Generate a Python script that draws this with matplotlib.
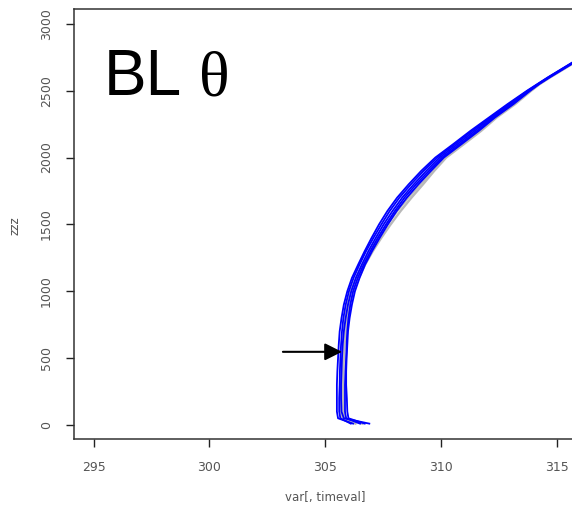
#!/usr/bin/env python3
"""
BL theta profiles: ensemble of potential temperature profiles vs height
"""
import numpy as np
import matplotlib
matplotlib.use('Agg')
import matplotlib.pyplot as plt

#--------------------------------------
# Data
#--------------------------------------
zzz = [10, 50, 100, 200, 300, 400, 500, 600, 700, 800, 900, 1000,
       1100, 1200, 1300, 1400, 1500, 1600, 1700, 1800, 1900, 2000,
       2100, 2200, 2300, 2400, 2500, 2550, 2600, 2700, 2800, 2900]

# grey members (drawn first, underneath)
theta_grey_1 = [306.3, 305.72, 305.68, 305.68, 305.70, 305.72, 305.74, 305.77, 305.80, 305.85,
                305.95, 306.10, 306.32, 306.60, 306.92, 307.28, 307.68, 308.10, 308.58, 309.10,
                309.62, 310.14, 310.90, 311.65, 312.34, 313.14, 313.86, 314.24, 314.69, 315.64,
                316.59, 317.54]
theta_grey_2 = [306.6, 305.85, 305.78, 305.76, 305.76, 305.78, 305.80, 305.83, 305.88, 305.95,
                306.05, 306.22, 306.45, 306.72, 307.05, 307.42, 307.82, 308.25, 308.72, 309.22,
                309.70, 310.22, 310.98, 311.73, 312.40, 313.20, 313.89, 314.26, 314.71, 315.66,
                316.61, 317.56]

# blue members
theta_blue_1 = [306.2, 305.55, 305.50, 305.50, 305.50, 305.52, 305.55, 305.58, 305.62, 305.70,
                305.80, 305.95, 306.15, 306.42, 306.70, 307.00, 307.32, 307.68, 308.10, 308.60,
                309.14, 309.75, 310.52, 311.27, 312.07, 312.87, 313.71, 314.16, 314.61, 315.56,
                316.50, 317.45]
theta_blue_2 = [306.9, 305.80, 305.70, 305.68, 305.68, 305.70, 305.72, 305.75, 305.80, 305.88,
                305.98, 306.12, 306.32, 306.58, 306.86, 307.18, 307.52, 307.90, 308.32, 308.82,
                309.36, 309.94, 310.70, 311.45, 312.20, 313.00, 313.78, 314.20, 314.65, 315.60,
                316.55, 317.50]
theta_blue_3 = [306.5, 305.90, 305.85, 305.85, 305.85, 305.87, 305.90, 305.92, 305.95, 306.00,
                306.08, 306.20, 306.40, 306.66, 306.95, 307.27, 307.62, 308.00, 308.42, 308.92,
                309.47, 310.04, 310.80, 311.55, 312.27, 313.07, 313.82, 314.22, 314.67, 315.62,
                316.57, 317.52]
theta_blue_4 = [306.1, 305.65, 305.60, 305.60, 305.62, 305.63, 305.65, 305.68, 305.72, 305.78,
                305.88, 306.02, 306.22, 306.48, 306.76, 307.08, 307.42, 307.78, 308.20, 308.70,
                309.24, 309.84, 310.60, 311.35, 312.13, 312.93, 313.74, 314.18, 314.63, 315.58,
                316.52, 317.47]
theta_blue_5 = [306.7, 306.00, 305.95, 305.93, 305.90, 305.90, 305.92, 305.95, 305.98, 306.05,
                306.15, 306.28, 306.48, 306.72, 307.02, 307.35, 307.70, 308.08, 308.52, 309.02,
                309.56, 310.12, 310.88, 311.63, 312.33, 313.13, 313.85, 314.24, 314.69, 315.64,
                316.59, 317.54]

x_ticks = [295, 300, 305, 310, 315]
y_ticks = [0, 500, 1000, 1500, 2000, 2500, 3000]

#--------------------------------------
# Plot
#--------------------------------------
W, H = 572, 507
fig = plt.figure(figsize=(W/100, H/100), dpi=100)
# axes box runs off the right edge of the picture, as in the reference
ax = fig.add_axes([74/W, (H-439)/H, (600-74)/W, (439-9)/H])

for th in [theta_grey_1, theta_grey_2]:
    ax.plot(th, zzz, color='#b8b8b8', lw=1.7, zorder=2)
for th in [theta_blue_1, theta_blue_2, theta_blue_3, theta_blue_4, theta_blue_5]:
    ax.plot(th, zzz, color='#0000ff', lw=1.3, zorder=3)

# arrow pointing at the near-surface profile
ax.annotate('', xy=(305.72, 547), xytext=(303.17, 547),
            arrowprops=dict(arrowstyle='-|>', color='black', lw=1.5,
                            mutation_scale=26, shrinkA=0, shrinkB=0),
            zorder=5)

ax.set_xlim(294.15, 316.86)
ax.set_ylim(-105, 3111)
ax.set_xticks(x_ticks)
ax.set_yticks(y_ticks)
ax.set_yticklabels([str(v) for v in y_ticks], rotation=90, va='center')
ax.tick_params(direction='out', length=6, width=1, color='#222222',
               labelsize=9, labelcolor='#555555')
ax.tick_params(axis='x', pad=10)
ax.tick_params(axis='y', pad=9)
for s in ax.spines.values():
    s.set_linewidth(1.1)
    s.set_color('#333333')

fig.text(325/W, 1 - 497/H, 'var[, timeval]', ha='center', va='center',
         fontsize=8.5, color='#555555')
fig.text(15/W, 1 - 226/H, 'zzz', ha='center', va='center', rotation=90,
         fontsize=8.5, color='#555555')

# panel title
fig.text(104/W, 1 - 95/H, 'BL', ha='left', va='baseline', fontsize=46,
         family='Liberation Sans', color='black')
fig.text(199/W, 1 - 95/H, '\u03b8', ha='left', va='baseline', fontsize=46,
         family='Liberation Serif', color='black')

fig.savefig('out.png', dpi=100)
